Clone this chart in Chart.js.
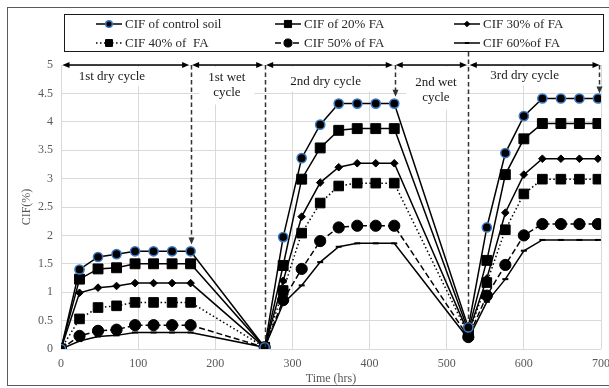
<!DOCTYPE html>
<html>
<head>
<meta charset="utf-8">
<script src="https://cdn.jsdelivr.net/npm/chart.js@4.4.0/dist/chart.umd.min.js"></script>
<style>
  html, body { margin: 0; padding: 0; background: #fff; overflow: hidden; }
  #wrap { width: 609px; height: 388px; position: relative; }
</style>
</head>
<body>
<div id="wrap"><canvas id="c" width="609" height="388"></canvas></div>
<script>
// Elapsed time of each reading (hours)
const hours = [0, 24, 48, 72, 96, 120, 144, 168, 264, 288, 312, 336, 360, 384, 408, 432, 528, 552, 576, 600, 624, 648, 672, 696];

// Crack intensity factor (%) per mix
const cifControl = [0, 1.40, 1.62, 1.67, 1.72, 1.72, 1.72, 1.72, 0.03, 1.97, 3.36, 3.95, 4.32, 4.32, 4.32, 4.32, 0.38, 2.14, 3.45, 4.10, 4.41, 4.41, 4.41, 4.41];
const cifFA20 = [0, 1.23, 1.41, 1.43, 1.50, 1.50, 1.50, 1.50, 0.03, 1.47, 2.99, 3.54, 3.85, 3.88, 3.88, 3.88, 0.32, 1.56, 3.07, 3.70, 3.97, 3.97, 3.97, 3.97];
const cifFA30 = [0, 0.99, 1.08, 1.11, 1.16, 1.16, 1.16, 1.16, 0.03, 1.20, 2.33, 2.93, 3.20, 3.27, 3.27, 3.27, 0.28, 1.24, 2.40, 3.07, 3.35, 3.35, 3.35, 3.35];
const cifFA40 = [0, 0.53, 0.73, 0.76, 0.82, 0.82, 0.82, 0.82, 0.03, 1.03, 2.04, 2.57, 2.87, 2.92, 2.92, 2.92, 0.25, 1.17, 2.10, 2.73, 2.99, 2.99, 2.99, 2.99];
const cifFA50 = [0, 0.23, 0.32, 0.34, 0.42, 0.42, 0.42, 0.42, 0.03, 0.86, 1.41, 1.90, 2.14, 2.17, 2.17, 2.17, 0.21, 0.94, 1.48, 2.00, 2.20, 2.20, 2.20, 2.20];
const cifFA60 = [0, 0.14, 0.22, 0.24, 0.29, 0.29, 0.29, 0.29, 0.03, 0.80, 1.12, 1.53, 1.80, 1.86, 1.86, 1.86, 0.18, 0.83, 1.23, 1.73, 1.92, 1.92, 1.92, 1.92];

const seriesNames = ['CIF of control soil', 'CIF of 20% FA', 'CIF 30% of FA', 'CIF 40% of  FA', 'CIF 50% of FA', 'CIF 60%of FA'];

// Wetting / drying phases (hours)
const phaseBounds = [0, 168, 264, 432, 528, 700];
const phaseNames = [['1st dry cycle'], ['1st wet', 'cycle'], ['2nd dry cycle'], ['2nd wet', 'cycle'], ['3rd dry cycle']];

const SERIF = "'Liberation Serif', 'Times New Roman', serif";

function pts(vals) { return hours.map((h, i) => ({ x: h, y: vals[i] })); }

const seriesStyles = [
  { data: cifControl, pointStyle: 'circle',  radius: 4.6, dash: [],     pointBorder: '#3b7bc4', pointBorderWidth: 1.5 },
  { data: cifFA20,    pointStyle: 'rect',    radius: 7.0, dash: [],     pointBorder: '#000',    pointBorderWidth: 1 },
  { data: cifFA30,    pointStyle: 'rectRot', radius: 3.8, dash: [],     pointBorder: '#000',    pointBorderWidth: 1 },
  { data: cifFA40,    pointStyle: 'rect',    radius: 6.8, dash: [1.5, 2.5], pointBorder: '#000', pointBorderWidth: 1 },
  { data: cifFA50,    pointStyle: 'circle',  radius: 5.6, dash: [6, 3], pointBorder: '#000',    pointBorderWidth: 1 },
  { data: cifFA60,    pointStyle: 'line',    radius: 3.0, dash: [],     pointBorder: '#000',    pointBorderWidth: 2 }
];

const datasets = seriesStyles.map((s, i) => ({
  label: seriesNames[i],
  data: pts(s.data),
  borderColor: '#000',
  borderWidth: 1.5,
  borderDash: s.dash,
  backgroundColor: '#000',
  pointStyle: s.pointStyle,
  pointRadius: s.radius,
  pointBackgroundColor: '#000',
  pointBorderColor: s.pointBorder,
  pointBorderWidth: s.pointBorderWidth,
  tension: 0,
  fill: false
}));

// Frame around the whole figure and the boxed legend
const framePlugin = {
  id: 'frame',
  beforeDraw(chart) {
    const ctx = chart.ctx;
    ctx.save();
    ctx.fillStyle = '#fff';
    ctx.fillRect(0, 0, chart.width, chart.height);
    ctx.strokeStyle = '#5a5a5a';
    ctx.lineWidth = 1;
    ctx.strokeRect(7.5, 7.5, 720, 378);
    ctx.restore();
  },
  afterDraw(chart) {
    const ctx = chart.ctx;
    ctx.save();
    ctx.fillStyle = '#fff';
    ctx.fillRect(64.5, 14.5, 539, 37);
    ctx.strokeStyle = '#1a1a1a';
    ctx.lineWidth = 1;
    ctx.strokeRect(64.5, 14.5, 539, 37);
    const cols = [96, 275, 454];
    const rows = [24, 43];
    datasets.forEach((ds, i) => {
      const x0 = cols[i % 3], y = rows[Math.floor(i / 3)];
      ctx.save();
      ctx.strokeStyle = '#000';
      ctx.lineWidth = 1.5;
      ctx.setLineDash(ds.borderDash);
      ctx.beginPath();
      ctx.moveTo(x0, y);
      ctx.lineTo(x0 + 26, y);
      ctx.stroke();
      ctx.setLineDash([]);
      ctx.fillStyle = '#000';
      ctx.strokeStyle = ds.pointBorderColor;
      ctx.lineWidth = ds.pointBorderWidth;
      Chart.helpers.drawPoint(ctx, {
        pointStyle: ds.pointStyle,
        radius: ds.pointRadius * 0.72,
        rotation: 0,
        borderWidth: ds.pointBorderWidth
      }, x0 + 13, y);
      ctx.restore();
      ctx.fillStyle = '#262626';
      ctx.font = '13px ' + SERIF;
      ctx.textAlign = 'left';
      ctx.textBaseline = 'middle';
      ctx.fillText(ds.label, x0 + 29, y + 1);
    });
    ctx.restore();
  }
};

// Cycle labels, boundary markers and span arrows
const phasePlugin = {
  id: 'phases',
  beforeDatasetsDraw(chart) {
    const ctx = chart.ctx, xs = chart.scales.x, ys = chart.scales.y;
    const anchors = [
      { h: 66, v: 4.80 }, { h: 215, v: 4.78 }, { h: 343, v: 4.71 }, { h: 486, v: 4.69 }, { h: 601, v: 4.81 }
    ];
    ctx.save();
    ctx.font = '13px ' + SERIF;
    ctx.textAlign = 'center';
    ctx.textBaseline = 'middle';
    phaseNames.forEach((lines, i) => {
      const cx = xs.getPixelForValue(anchors[i].h);
      const cy = ys.getPixelForValue(anchors[i].v);
      const w = Math.max(...lines.map(t => ctx.measureText(t).width));
      const lastY = cy + (lines.length - 1) * 15;
      ctx.fillStyle = '#fff';
      ctx.fillRect(cx - w / 2 - 9, ys.top + 2, w + 18, lastY + (lines.length > 1 ? 12 : 10) - ys.top - 2);
      ctx.fillStyle = '#1a1a1a';
      lines.forEach((t, k) => ctx.fillText(t, cx, cy + k * 15));
    });
    ctx.restore();
  },
  afterDatasetsDraw(chart) {
    const ctx = chart.ctx, xs = chart.scales.x, ys = chart.scales.y;
    const topY = ys.getPixelForValue(5);

    function head(x, y, dir, horizontal) {
      ctx.beginPath();
      if (horizontal) {
        ctx.moveTo(x, y);
        ctx.lineTo(x - dir * 7, y - 3);
        ctx.lineTo(x - dir * 7, y + 3);
      } else {
        ctx.moveTo(x, y);
        ctx.lineTo(x - 3, y - 7);
        ctx.lineTo(x + 3, y - 7);
      }
      ctx.closePath();
      ctx.fill();
    }

    ctx.save();
    ctx.fillStyle = '#000';
    ctx.strokeStyle = '#000';

    // double-headed span arrows along the top of the plot
    ctx.lineWidth = 1.5;
    for (let i = 0; i < phaseBounds.length - 1; i++) {
      const a = xs.getPixelForValue(phaseBounds[i]) + 1.5;
      const b = xs.getPixelForValue(phaseBounds[i + 1]) - 1.5;
      ctx.beginPath();
      ctx.moveTo(a + 3, topY);
      ctx.lineTo(b - 3, topY);
      ctx.stroke();
      head(a, topY, -1, true);
      head(b, topY, 1, true);
    }

    // dashed boundary markers: [hour, from value (null = legend edge), to value, arrow]
    const marks = [
      [168, 5, 1.84, true],
      [264, 5, 0, false],
      [432.5, 5, 4.44, true],
      [528, null, 0.44, false],
      [698, 5, 4.50, true]
    ];
    ctx.strokeStyle = '#333';
    ctx.fillStyle = '#333';
    ctx.lineWidth = 1.5;
    ctx.setLineDash([4.5, 3]);
    marks.forEach(([h, v0, v1, arrow]) => {
      const x = Math.round(xs.getPixelForValue(h)) + 0.5;
      const y0 = v0 === null ? 52 : ys.getPixelForValue(v0);
      const y1 = ys.getPixelForValue(v1);
      ctx.beginPath();
      ctx.moveTo(x, y0);
      ctx.lineTo(x, arrow ? y1 - 6 : y1);
      ctx.stroke();
      if (arrow) {
        ctx.setLineDash([]);
        head(x, y1, 1, false);
        ctx.setLineDash([4.5, 3]);
      }
    });
    ctx.restore();
  }
};

const tickFont = { family: SERIF, size: 12 };

new Chart(document.getElementById('c'), {
  type: 'line',
  data: { datasets },
  options: {
    responsive: false,
    animation: false,
    devicePixelRatio: 1,
    layout: { padding: { left: 0, top: 65, right: 7, bottom: 0 } },
    plugins: { legend: { display: false }, tooltip: { enabled: false } },
    scales: {
      x: {
        type: 'linear', min: 0, max: 700,
        ticks: { stepSize: 100, color: '#595959', font: tickFont, padding: 8, maxRotation: 0 },
        grid: { color: '#d9d9d9', lineWidth: 1, drawTicks: false },
        border: { display: false },
        title: { display: true, text: 'Time (hrs)', color: '#595959', font: tickFont, padding: { top: 0, bottom: 2 } },
        afterFit(s) { s.height = 39; s.paddingLeft = 0; s.paddingRight = 0; }
      },
      y: {
        type: 'linear', min: 0, max: 5,
        ticks: { stepSize: 0.5, color: '#595959', font: tickFont, padding: 8, callback: v => String(Math.round(v * 10) / 10) },
        grid: { color: '#d9d9d9', lineWidth: 1, drawTicks: false },
        border: { display: false },
        title: { display: true, text: 'CIF(%)', color: '#595959', font: tickFont, padding: { top: 20, bottom: 0 } },
        afterFit(s) { s.width = 61; s.paddingTop = 0; s.paddingBottom = 0; }
      }
    }
  },
  plugins: [framePlugin, phasePlugin]
});
</script>
</body>
</html>
